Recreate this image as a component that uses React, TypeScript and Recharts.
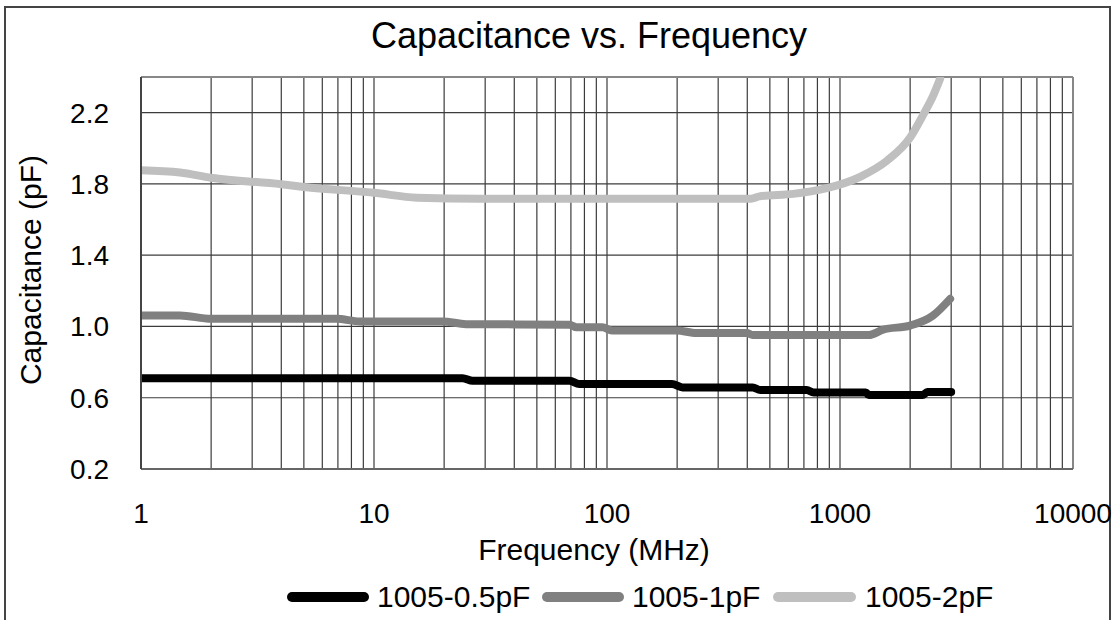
import { LineChart, Line, XAxis, YAxis, CartesianGrid, ReferenceLine } from "recharts";

// Capacitance vs. Frequency for 1005-size capacitors

const FONT = "'Liberation Sans', Arial, sans-serif";

// frequency in MHz, capacitance in pF
const freq05 = [1, 24, 26.5, 69, 76, 190, 211, 422, 455, 720, 770, 1290, 1330, 2260, 2370, 3000];
const cap05 = [0.71, 0.71, 0.695, 0.695, 0.677, 0.677, 0.658, 0.658, 0.643, 0.643, 0.63, 0.63, 0.615, 0.615, 0.632, 0.632];

const freq1 = [1, 1.47, 2, 6.9, 8.7, 19.7, 24.8, 69, 74, 95.6, 105, 199, 242, 398, 422, 1330, 1530, 2000, 2500, 2970];
const cap1 = [1.062, 1.062, 1.043, 1.043, 1.028, 1.028, 1.013, 1.01, 0.995, 0.995, 0.978, 0.978, 0.963, 0.963, 0.952, 0.952, 0.982, 1.005, 1.06, 1.155];

const freq2 = [1, 1.47, 2, 4, 5, 10, 15.3, 28.5, 415, 451, 630, 877, 1220, 1590, 2000, 2280, 2520, 2690];
const cap2 = [1.877, 1.864, 1.835, 1.798, 1.783, 1.75, 1.723, 1.717, 1.717, 1.73, 1.744, 1.776, 1.84, 1.93, 2.06, 2.19, 2.3, 2.39];

// every 1..9 x decade gets a gridline, only decades get a label
const gridX = [
  1, 2, 3, 4, 5, 6, 7, 8, 9,
  10, 20, 30, 40, 50, 60, 70, 80, 90,
  100, 200, 300, 400, 500, 600, 700, 800, 900,
  1000, 2000, 3000, 4000, 5000, 6000, 7000, 8000, 9000,
  10000,
];
const decadeLabels = [1, 10, 100, 1000, 10000];
const yTicks = [0.2, 0.6, 1.0, 1.4, 1.8, 2.2, 2.4];
const yLabels = [0.2, 0.6, 1.0, 1.4, 1.8, 2.2];

const toRows = (f: number[], c: number[]) => f.map((x, i) => ({ f: x, c: c[i] }));

const series = [
  { name: "1005-0.5pF", color: "#000000", data: toRows(freq05, cap05) },
  { name: "1005-1pF", color: "#808080", data: toRows(freq1, cap1) },
  { name: "1005-2pF", color: "#bfbfbf", data: toRows(freq2, cap2) },
];

// legend layout (line start, line end, text start)
const legendPos = [
  { x1: 292, x2: 364, tx: 377 },
  { x1: 547, x2: 619, tx: 632 },
  { x1: 778, x2: 851, tx: 865 },
];

export default function App() {
  return (
    <div style={{ position: "absolute", left: 0, top: 0, width: 1115, height: 620, background: "#fff" }}>
      <div
        style={{
          position: "absolute",
          left: 4,
          top: 6,
          width: 1107,
          height: 640,
          border: "2px solid #444",
          boxSizing: "border-box",
        }}
      />
      <LineChart
        width={1115}
        height={620}
        margin={{ top: 77, right: 42, bottom: 0, left: 0 }}
        style={{ position: "absolute", left: 0, top: 0 }}
      >
        <CartesianGrid stroke="#3c3c3c" strokeWidth={1.2} />
        <XAxis
          type="number"
          dataKey="f"
          scale="log"
          domain={[1, 10000]}
          ticks={gridX}
          interval={0}
          allowDataOverflow
          height={151}
          tickLine={false}
          axisLine={{ stroke: "#666", strokeWidth: 2 }}
          tickMargin={28}
          tick={{ fontSize: 28, fill: "#000", fontFamily: FONT }}
          tickFormatter={(v: number) => (decadeLabels.includes(v) ? String(v) : "")}
        />
        <YAxis
          type="number"
          domain={[0.2, 2.4]}
          ticks={yTicks}
          interval={0}
          allowDataOverflow
          width={141}
          tickLine={false}
          axisLine={{ stroke: "#444", strokeWidth: 2 }}
          tickMargin={26}
          tick={{ fontSize: 28, fill: "#000", fontFamily: FONT }}
          tickFormatter={(v: number) => (yLabels.some((t) => Math.abs(t - v) < 1e-6) ? v.toFixed(1) : "")}
        />
        <ReferenceLine x={10000} stroke="#888" strokeWidth={2} />
        <ReferenceLine y={2.4} stroke="#888" strokeWidth={2} />
        {[...series].reverse().map((s) => (
          <Line
            key={s.name}
            data={s.data}
            dataKey="c"
            name={s.name}
            type="monotone"
            stroke={s.color}
            strokeWidth={8}
            strokeLinecap="round"
            dot={false}
            isAnimationActive={false}
          />
        ))}
      </LineChart>
      <svg
        width={1115}
        height={620}
        style={{ position: "absolute", left: 0, top: 0, pointerEvents: "none" }}
        fontFamily={FONT}
      >
        <text x={589} y={48} textAnchor="middle" fontSize={36} fill="#000">
          Capacitance vs. Frequency
        </text>
        <text x={594} y={560} textAnchor="middle" fontSize={30} fill="#000">
          Frequency (MHz)
        </text>
        <text transform="translate(41,270) rotate(-90)" textAnchor="middle" fontSize={30} fill="#000">
          Capacitance (pF)
        </text>
        {series.map((s, i) => (
          <g key={s.name}>
            <line
              x1={legendPos[i].x1}
              x2={legendPos[i].x2}
              y1={597}
              y2={597}
              stroke={s.color}
              strokeWidth={10}
              strokeLinecap="round"
            />
            <text x={legendPos[i].tx} y={607} fontSize={30} fill="#000">
              {s.name}
            </text>
          </g>
        ))}
      </svg>
    </div>
  );
}
